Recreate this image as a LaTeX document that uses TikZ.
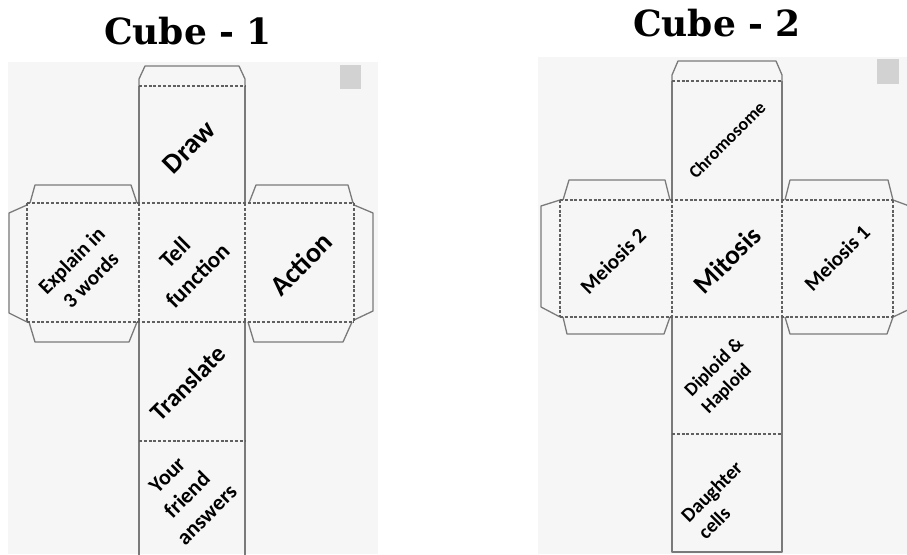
\documentclass[tikz,border=0pt]{standalone}
\usepackage{fontspec}
\setmainfont{DejaVu Serif}
\newfontfamily\labfont{Carlito}
\definecolor{panelgray}{HTML}{F6F6F6}
\definecolor{edgegray}{HTML}{7A7A7A}
\definecolor{foldgray}{HTML}{606060}
\definecolor{icongray}{HTML}{D2D2D2}
\begin{document}
\begin{tikzpicture}[x=1pt,y=-1pt,
  outline/.style={draw=edgegray, line width=1.3pt, line join=round},
  fold/.style={draw=foldgray, line width=1.3pt, dash pattern=on 3pt off 1.8pt},
  panel/.style={fill=panelgray},
  icon/.style={fill=icongray},
  title/.style={font=\fontsize{36}{40}\selectfont\bfseries, inner sep=0pt},
  lab/.style 2 args={font=\labfont\bfseries\fontsize{#1}{#2}\selectfont, rotate=45, align=center, inner sep=0pt, text=black},
  labl/.style 2 args={font=\labfont\bfseries\fontsize{#1}{#2}\selectfont, rotate=45, align=left, inner sep=0pt, text=black},
]
\useasboundingbox (0,0) rectangle (907,554);
\begin{scope}
\clip (0,0) rectangle (907,554);
% ---------------- Cube 1 ----------------
\fill[panel] (8,62) rectangle (378,554);
\fill[icon] (340,65) rectangle (361,89);
\node[title] (t1) at (188,31) {Cube - 1};
% flaps and outer edges
\draw[outline] (139,86) -- (139,79) -- (145,66) -- (239,66) -- (245,79) -- (245,86);
\draw[outline] (139,86) -- (139,203);
\draw[outline] (245,86) -- (245,203);
\draw[outline] (30,203) -- (35,185) -- (131,185) -- (137,203);
\draw[outline] (249,203) -- (256,185) -- (348,185) -- (353,203);
\draw[outline] (27,205) -- (9,213) -- (9,313) -- (27,322);
\draw[outline] (354,205) -- (373,213) -- (373,311) -- (354,320);
\draw[outline] (29,322) -- (35,342) -- (129,342) -- (137,322);
\draw[outline] (248,322) -- (254,342) -- (343,342) -- (352,322);
\draw[outline] (139,322) -- (139,560);
\draw[outline] (245,322) -- (245,560);
% fold lines
\draw[fold] (139,86) -- (245,86);
\draw[fold] (27,203) -- (354,203);
\draw[fold] (27,322) -- (354,322);
\draw[fold] (27,203) -- (27,322);
\draw[fold] (139,203) -- (139,322);
\draw[fold] (245,203) -- (245,322);
\draw[fold] (354,203) -- (354,322);
\draw[fold] (139,441) -- (245,441);
% labels
\node[lab={28}{32}] (draw) at (189,147) {Draw};
\node[lab={21}{27}] (explain) at (81,270) {Explain in\\3 words};
\node[lab={23}{32}] (tell) at (186,264) {Tell\\function};
\node[lab={28}{32}] (action) at (301,264) {Action};
\node[lab={25}{30}] (translate) at (188,383) {Translate};
\node[lab={22}{28}] (friend) at (187,495) {Your\\friend\\answers};
% ---------------- Cube 2 ----------------
\fill[panel] (538,57) rectangle (907,554);
\fill[icon] (877,59) rectangle (899,84);
\node[title] (t2) at (717,23) {Cube - 2};
\draw[outline] (672,81) -- (672,75) -- (678,61) -- (776,61) -- (782,75) -- (782,81);
\draw[outline] (672,81) -- (672,200);
\draw[outline] (782,81) -- (782,200);
\draw[outline] (563,200) -- (569,180) -- (665,180) -- (670,200);
\draw[outline] (785,200) -- (790,180) -- (888,180) -- (893,200);
\draw[outline] (560,200) -- (541,206) -- (541,307) -- (560,317);
\draw[outline] (893,200) -- (912,207) -- (912,308) -- (893,317);
\draw[outline] (563,317) -- (567,334) -- (664,334) -- (670,317);
\draw[outline] (785,317) -- (790,334) -- (887,334) -- (893,317);
\draw[outline] (672,317) -- (672,552) -- (782,552) -- (782,317);
\draw[fold] (672,81) -- (782,81);
\draw[fold] (560,200) -- (893,200);
\draw[fold] (560,317) -- (893,317);
\draw[fold] (560,200) -- (560,317);
\draw[fold] (672,200) -- (672,317);
\draw[fold] (782,200) -- (782,317);
\draw[fold] (893,200) -- (893,317);
\draw[fold] (672,434) -- (782,434);
\node[lab={18}{22}] (chromo) at (727,140) {Chromosome};
\node[lab={21}{24}] (meiosis2) at (613,261) {Meiosis 2};
\node[lab={27}{30}] (mitosis) at (727,260) {Mitosis};
\node[lab={21}{24}] (meiosis1) at (837,258) {Meiosis 1};
\node[labl={19}{24}] (diploid) at (723,376) {Diploid \&\\Haploid};
\node[labl={20}{24}] (daughter) at (720,500) {Daughter\\cells};
\end{scope}
\end{tikzpicture}
\end{document}
